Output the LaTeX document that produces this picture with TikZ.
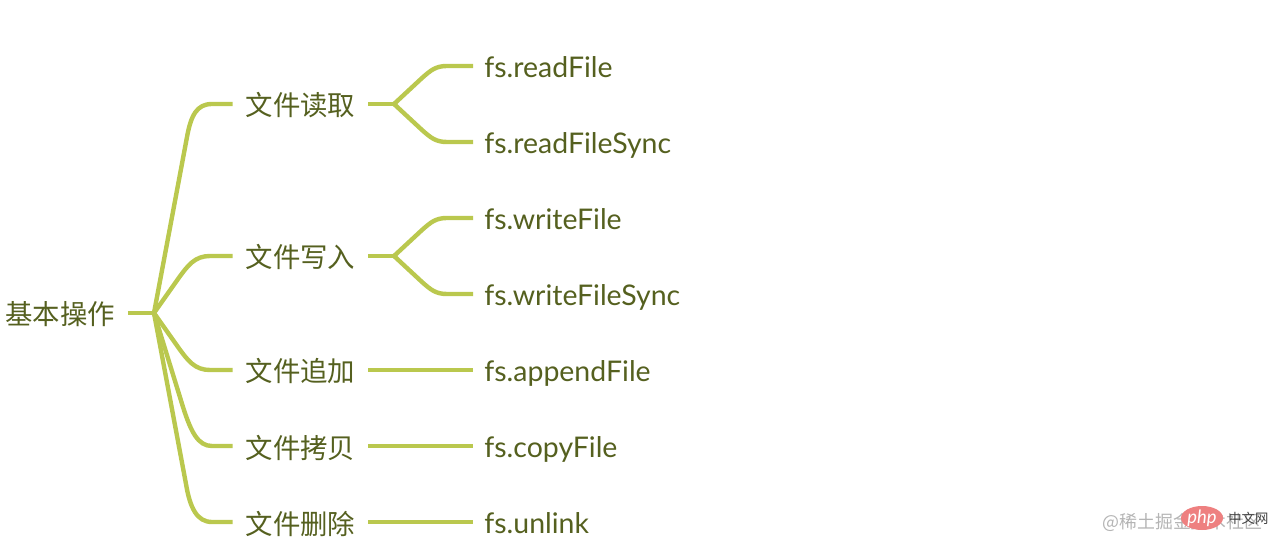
\documentclass[tikz,border=0pt]{standalone}
\usepackage{fontspec}
\usetikzlibrary{shapes.geometric}
\setmainfont{Lato}
\newfontfamily\cjk{Noto Sans CJK SC}
\definecolor{branchgreen}{HTML}{BAC84E}
\definecolor{labelgreen}{HTML}{55601F}
\definecolor{markgray}{HTML}{B4B4B4}
\definecolor{markred}{HTML}{EE8080}
\tikzset{
    cjklabel/.style={text=labelgreen, font=\cjk\fontsize{15.6}{18}\selectfont, minimum width=2.70cm,
        inner xsep=0pt, inner ysep=0pt, text height=.58cm, text depth=.1cm},
    leaflabel/.style={text=labelgreen, font=\fontsize{16.2}{18}\selectfont, anchor=west,
        inner xsep=.22cm, inner ysep=0pt, text height=.58cm, text depth=.12cm},
    branchline/.style={draw=branchgreen, line width=.088cm, line join=round}
}

\begin{document}
\begin{tikzpicture}[x=.02cm, y=-.02cm]
    \useasboundingbox (0,0) rectangle (1280,550);

    % Root
    \node[cjklabel] (root) at (60,313) {基本操作};
    \coordinate (rootjoin) at (154,313);
    \draw[branchline] (root.east) -- (rootjoin);

    % Second level
    \node[cjklabel] (read) at (300.5,104) {文件读取};
    \node[cjklabel] (write) at (300.5,256) {文件写入};
    \node[cjklabel] (append) at (300.5,370) {文件追加};
    \node[cjklabel] (copy) at (300.5,446) {文件拷贝};
    \node[cjklabel] (delete) at (300.5,522) {文件删除};

    % Curves from the root
    \draw[branchline] (rootjoin) -- (187,137) .. controls (191,115) and (197,104) .. (212,104) -- (read.west);
    \draw[branchline] (rootjoin) -- (178,279) .. controls (188,265) and (195,256) .. (210,256) -- (write.west);
    \draw[branchline] (rootjoin) -- (178,347) .. controls (188,361) and (195,370) .. (210,370) -- (append.west);
    \draw[branchline] (rootjoin) -- (183,407) .. controls (191,432) and (198,446) .. (212,446) -- (copy.west);
    \draw[branchline] (rootjoin) -- (186,484) .. controls (190,508) and (197,522) .. (212,522) -- (delete.west);

    % Leaves
    \node[leaflabel] (readfile) at (473,66) {fs.readFile};
    \node[leaflabel] (readsync) at (473,142) {fs.readFileSync};
    \node[leaflabel] (writefile) at (473,218) {fs.writeFile};
    \node[leaflabel] (writesync) at (473,294) {fs.writeFileSync};
    \node[leaflabel] (appendfile) at (473,370) {fs.appendFile};
    \node[leaflabel] (copyfile) at (473,446) {fs.copyFile};
    \node[leaflabel] (unlink) at (473,522) {fs.unlink};

    % Forks
    \coordinate (readjoin) at (394,104);
    \draw[branchline] (read.east) -- (readjoin);
    \draw[branchline] (readjoin) -- (422,78) .. controls (431,70) and (436,66) .. (447,66) -- (readfile.west);
    \draw[branchline] (readjoin) -- (422,130) .. controls (431,138) and (436,142) .. (447,142) -- (readsync.west);

    \coordinate (writejoin) at (394,256);
    \draw[branchline] (write.east) -- (writejoin);
    \draw[branchline] (writejoin) -- (422,230) .. controls (431,222) and (436,218) .. (447,218) -- (writefile.west);
    \draw[branchline] (writejoin) -- (422,282) .. controls (431,290) and (436,294) .. (447,294) -- (writesync.west);

    % Straight ones
    \draw[branchline] (append.east) -- (appendfile.west);
    \draw[branchline] (copy.east) -- (copyfile.west);
    \draw[branchline] (delete.east) -- (unlink.west);

    % Watermark
    \node[text=markgray, font=\cjk\fontsize{10.2}{12}\selectfont, anchor=east, inner sep=0pt] (juejin) at (1263,522) {@稀土掘金技术社区};
    \node[ellipse, fill=markred, minimum width=.84cm, minimum height=.48cm, inner sep=0pt] (phpmark) at (1202,518) {};
    \node[text=white, font=\itshape\fontsize{10.5}{12}\selectfont, inner sep=0pt] (phptext) at (phpmark) {php};
    \node[text=black!75, font=\cjk\fontsize{7.6}{9}\selectfont, anchor=west, inner sep=0pt] (zhongwen) at (1228,518) {中文网};
\end{tikzpicture}
\end{document}
